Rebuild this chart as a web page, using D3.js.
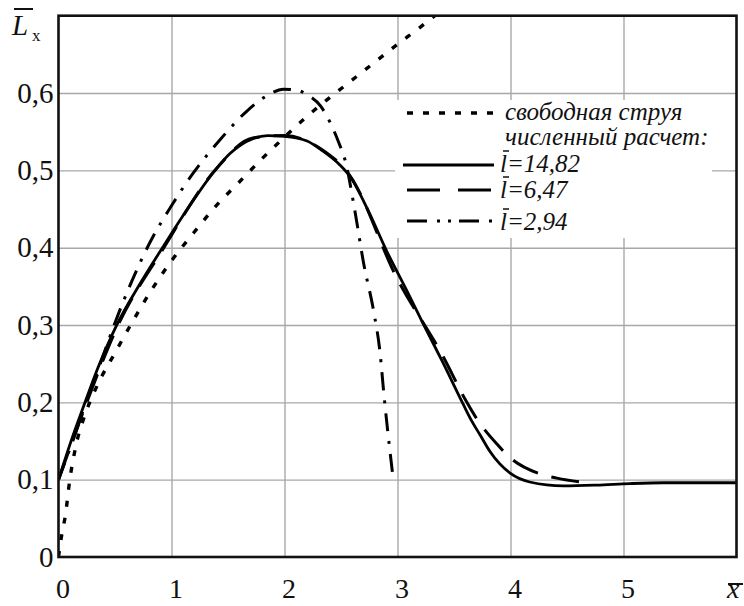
<!DOCTYPE html>
<html>
<head>
<meta charset="utf-8">
<script src="https://cdn.jsdelivr.net/npm/d3@7"></script>
<style>
  body { margin: 0; background: #fff; }
  svg text { font-family: "Liberation Serif", Tinos, "Times New Roman", "DejaVu Serif", serif; fill: #111; }
</style>
</head>
<body>
<svg width="744" height="606"></svg>
<script>
// tick values
const xTicks = [0, 1, 2, 3, 4, 5];
const yTicks = [0, 0.1, 0.2, 0.3, 0.4, 0.5, 0.6];

// free jet (dotted)
const freeX = [0, 0.03, 0.06, 0.1, 0.15, 0.25, 0.35, 0.5, 0.65, 0.8, 1.0, 1.2, 1.4, 1.6, 1.8, 2.0, 2.2, 2.4, 2.6, 2.8, 3.0, 3.2, 3.33];
const freeY = [0, 0.03, 0.053, 0.1, 0.141, 0.19, 0.224, 0.264, 0.303, 0.34, 0.383, 0.42, 0.455, 0.485, 0.515, 0.543, 0.57, 0.594, 0.617, 0.64, 0.663, 0.685, 0.7];

// l = 14,82 (solid)
const l1482X = [0, 0.1, 0.235, 0.35, 0.515, 0.72, 0.92, 1.15, 1.385, 1.52, 1.72, 1.85, 2.0, 2.2, 2.33, 2.49, 2.58, 2.75, 2.9, 3.08, 3.24, 3.4, 3.58, 3.66, 3.73, 3.82, 4.0, 4.17, 4.47, 4.76, 5.06, 5.35, 6.0];
const l1482Y = [0.1, 0.145, 0.2, 0.245, 0.3, 0.353, 0.4, 0.452, 0.5, 0.522, 0.541, 0.545, 0.544, 0.538, 0.526, 0.507, 0.492, 0.445, 0.397, 0.345, 0.298, 0.252, 0.198, 0.175, 0.158, 0.136, 0.108, 0.097, 0.092, 0.093, 0.095, 0.096, 0.096];

// l = 6,47 (dashed)
const l647X = [0, 0.235, 0.515, 0.92, 1.385, 1.72, 2.0, 2.33, 2.58, 2.99, 3.405, 3.61, 3.7, 3.88, 4.0, 4.25, 4.41, 4.69];
const l647Y = [0.1, 0.194, 0.296, 0.397, 0.5, 0.542, 0.545, 0.527, 0.493, 0.362, 0.259, 0.201, 0.179, 0.146, 0.128, 0.108, 0.102, 0.096];

// l = 2,94 (dash-dot)
const l294X = [0, 0.15, 0.25, 0.37, 0.5, 0.65, 0.81, 0.99, 1.19, 1.42, 1.67, 1.85, 1.99, 2.1, 2.2, 2.32, 2.4, 2.48, 2.54, 2.62, 2.7, 2.79, 2.845, 2.88, 2.93, 2.963];
const l294Y = [0.1, 0.16, 0.203, 0.25, 0.303, 0.357, 0.407, 0.452, 0.496, 0.538, 0.577, 0.597, 0.605, 0.604, 0.598, 0.583, 0.563, 0.536, 0.511, 0.45, 0.38, 0.317, 0.265, 0.21, 0.141, 0.1];

const legendLabels = ["свободная струя", "численный расчет:", "=14,82", "=6,47", "=2,94"];

const svg = d3.select('svg');
const pLeft = 58.5, pTop = 15.7, pRight = 736.5, pBottom = 557;
const serif = '"Liberation Serif", Tinos, "Times New Roman", "DejaVu Serif", serif';

const x = d3.scaleLinear().domain([0, 6]).range([pLeft, pRight]);
const y = d3.scaleLinear().domain([0, 0.7]).range([pBottom, pTop]);

const fmt = (d) => (d === 0 ? '0' : d.toFixed(1).replace('.', ','));

// grid
svg.append('g')
  .attr('transform', `translate(0,${pBottom})`)
  .call(d3.axisBottom(x).tickValues(xTicks.slice(1)).tickSize(-(pBottom - pTop)).tickFormat(''))
  .call((g) => g.select('.domain').remove())
  .call((g) => g.selectAll('line').attr('stroke', '#a8a8a8').attr('stroke-width', 1.4));
svg.append('g')
  .attr('transform', `translate(${pLeft},0)`)
  .call(d3.axisLeft(y).tickValues(yTicks.slice(1)).tickSize(-(pRight - pLeft)).tickFormat(''))
  .call((g) => g.select('.domain').remove())
  .call((g) => g.selectAll('line').attr('stroke', '#a8a8a8').attr('stroke-width', 1.4));

// tick labels
svg.append('g')
  .attr('transform', `translate(0,${pBottom})`)
  .attr('font-family', serif)
  .call(d3.axisBottom(x).tickValues(xTicks).tickSize(0).tickPadding(21).tickFormat((d) => d))
  .call((g) => g.select('.domain').remove())
  .call((g) => g.selectAll('text').attr('dx', 4).style('font-size', '28px')
    .style('font-family', serif).attr('fill', '#111'));
svg.append('g')
  .attr('transform', `translate(${pLeft},0)`)
  .attr('font-family', serif)
  .call(d3.axisLeft(y).tickValues(yTicks).tickSize(0).tickPadding(5).tickFormat(fmt))
  .call((g) => g.select('.domain').remove())
  .call((g) => g.selectAll('text').style('font-size', '29px')
    .style('font-family', serif).attr('fill', '#111'));

// axis titles
svg.append('text').attr('x', 12).attr('y', 35).style('font-size', '29px').style('font-style', 'italic').text('L');
svg.append('text').attr('x', 32).attr('y', 41).style('font-size', '17px').text('x');
svg.append('line').attr('x1', 14).attr('x2', 33).attr('y1', 9).attr('y2', 9).attr('stroke', '#111').attr('stroke-width', 2);
svg.append('text').attr('x', 727).attr('y', 598).style('font-size', '28px').style('font-style', 'italic').text('x');
svg.append('line').attr('x1', 728).attr('x2', 743).attr('y1', 584).attr('y2', 584).attr('stroke', '#111').attr('stroke-width', 2);

// legend background
svg.append('rect').attr('x', 395).attr('y', 100).attr('width', 317).attr('height', 138).attr('fill', '#fff');

// curves
svg.append('clipPath').attr('id', 'clip').append('rect')
  .attr('x', pLeft).attr('y', pTop).attr('width', pRight - pLeft).attr('height', pBottom - pTop);
const line = d3.line().x((d) => x(d[0])).y((d) => y(d[1])).curve(d3.curveMonotoneX);
const zip = (xs, ys) => xs.map((v, i) => [v, ys[i]]);

const series = [
  { pts: zip(freeX, freeY), dash: '6,11', w: 3.4 },
  { pts: zip(l647X, l647Y), dash: '28,14', w: 3 },
  { pts: zip(l294X, l294Y), dash: '18,10,3,10', w: 3 },
  { pts: zip(l1482X, l1482Y), dash: null, w: 2.8 },
];
svg.append('g').attr('clip-path', 'url(#clip)')
  .selectAll('path').data(series).enter().append('path')
  .attr('d', (s) => line(s.pts))
  .attr('fill', 'none').attr('stroke', '#000')
  .attr('stroke-width', (s) => s.w)
  .attr('stroke-dasharray', (s) => s.dash);

// legend
const lg = svg.append('g');
const samples = [
  { y: 113, x1: 407, x2: 497, dash: '6,10', w: 3.4 },
  { y: 165, x1: 403, x2: 494, dash: null, w: 3 },
  { y: 190, x1: 407, x2: 492, dash: '33,18', w: 3 },
  { y: 221, x1: 407, x2: 494, dash: '20,10,3,8,3,8', w: 3 },
];
lg.selectAll('line.s').data(samples).enter().append('line')
  .attr('x1', (d) => d.x1).attr('x2', (d) => d.x2).attr('y1', (d) => d.y).attr('y2', (d) => d.y)
  .attr('stroke', '#000').attr('stroke-width', (d) => d.w).attr('stroke-dasharray', (d) => d.dash);

const textRows = [
  { x: 505, y: 120, bar: false },
  { x: 505, y: 145, bar: false },
  { x: 500, y: 172, bar: true },
  { x: 500, y: 198, bar: true },
  { x: 500, y: 230, bar: true },
];
textRows.forEach((r, i) => {
  const t = lg.append('text').attr('x', r.x).attr('y', r.y)
    .style('font-size', '25px').style('font-style', 'italic');
  if (r.bar) {
    t.append('tspan').text('l');
    lg.append('line').attr('x1', r.x + 3).attr('x2', r.x + 9)
      .attr('y1', r.y - 21).attr('y2', r.y - 21).attr('stroke', '#111').attr('stroke-width', 1.5);
  }
  t.append('tspan').text(legendLabels[i]);
});

// frame
svg.append('rect').attr('x', pLeft).attr('y', pTop).attr('width', pRight - pLeft).attr('height', pBottom - pTop)
  .attr('fill', 'none').attr('stroke', '#111').attr('stroke-width', 2.6);
</script>
</body>
</html>
